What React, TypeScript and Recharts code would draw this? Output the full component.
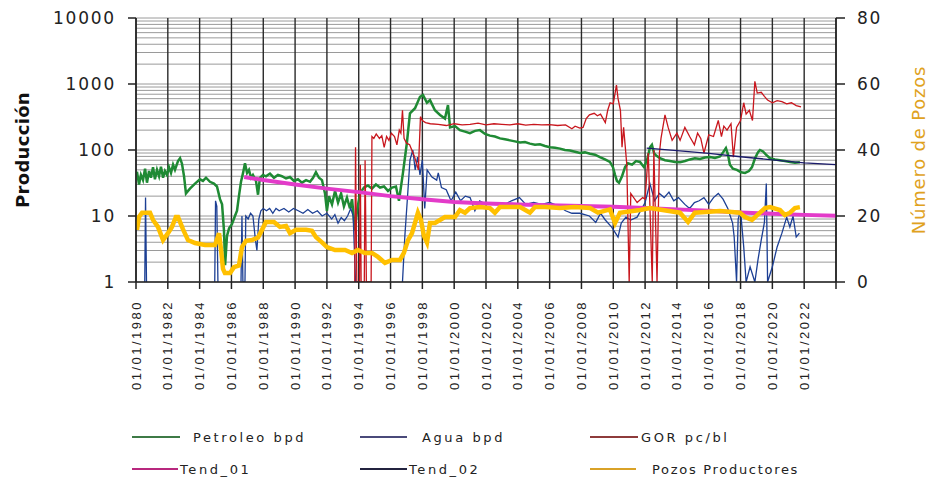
import React from 'react';
import { LineChart, Line, XAxis, YAxis, CartesianGrid } from 'recharts';

// Eje de fechas (años decimales) y marcas de los ejes
const fechaTicks = [1980, 1982, 1984, 1986, 1988, 1990, 1992, 1994, 1996, 1998, 2000, 2002, 2004, 2006, 2008, 2010, 2012, 2014, 2016, 2018, 2020, 2022, 2024];
const produccionTicks = [1, 10, 100, 1000, 10000];
const pozosTicks = [0, 20, 40, 60, 80];
// líneas menores de la escala logarítmica
const gridValores = [
  1, 2, 3, 4, 5, 6, 7, 8, 9,
  10, 20, 30, 40, 50, 60, 70, 80, 90,
  100, 200, 300, 400, 500, 600, 700, 800, 900,
  1000, 2000, 3000, 4000, 5000, 6000, 7000, 8000, 9000, 10000,
];

type Punto = [number, number | null];

const petroleo: Punto[] = [
  [1980.06, 47], [1980.19, 30], [1980.31, 42], [1980.44, 35], [1980.57, 52], [1980.69, 32],
  [1980.82, 48], [1980.94, 38], [1981.07, 55], [1981.19, 36], [1981.32, 50], [1981.45, 40],
  [1981.57, 56], [1981.7, 38], [1981.82, 48], [1981.95, 42], [1982.07, 55], [1982.2, 45],
  [1982.33, 60], [1982.45, 50], [1982.64, 68], [1982.77, 75], [1982.89, 62], [1983.02, 40],
  [1983.14, 22], [1983.39, 26], [1983.71, 31], [1984.02, 36], [1984.21, 34], [1984.4, 38],
  [1984.65, 33], [1984.9, 31], [1985.09, 28], [1985.28, 18], [1985.41, 15], [1985.53, 6],
  [1985.6, 1.8], [1985.72, 5], [1985.85, 6.5], [1986.03, 7.5], [1986.22, 10], [1986.35, 12],
  [1986.47, 20], [1986.6, 33], [1986.73, 45], [1986.85, 63], [1986.98, 45], [1987.1, 50],
  [1987.23, 38], [1987.35, 42], [1987.54, 34], [1987.67, 21], [1987.79, 38], [1987.98, 42],
  [1988.17, 40], [1988.42, 44], [1988.67, 38], [1988.92, 42], [1989.17, 40], [1989.43, 37],
  [1989.68, 39], [1989.93, 34], [1990.18, 36], [1990.43, 32], [1990.69, 35], [1990.94, 33],
  [1991.13, 38], [1991.31, 46], [1991.5, 38], [1991.69, 35], [1991.88, 22], [1992.0, 12],
  [1992.13, 20], [1992.32, 15], [1992.51, 24], [1992.7, 16], [1992.89, 22], [1993.07, 14],
  [1993.26, 19], [1993.45, 13], [1993.58, 18], [1993.76, 6], [1993.89, 12], [1994.08, 22],
  [1994.33, 27], [1994.58, 29], [1994.83, 26], [1995.08, 30], [1995.34, 27], [1995.59, 28],
  [1995.84, 24], [1996.09, 27], [1996.34, 28], [1996.53, 17], [1996.78, 45], [1997.03, 130],
  [1997.22, 360], [1997.54, 430], [1997.85, 640], [1998.04, 680], [1998.29, 520], [1998.48, 570],
  [1998.79, 400], [1999.11, 340], [1999.42, 300], [1999.61, 480], [1999.74, 220], [2000.05, 230],
  [2000.36, 200], [2000.68, 190], [2000.99, 180], [2001.31, 195], [2001.62, 200], [2001.94, 175],
  [2002.25, 165], [2002.56, 160], [2002.88, 150], [2003.19, 145], [2003.51, 140], [2003.82, 135],
  [2004.14, 130], [2004.45, 132], [2004.76, 125], [2005.08, 120], [2005.39, 122], [2005.71, 115],
  [2006.02, 110], [2006.34, 108], [2006.65, 105], [2006.96, 100], [2007.28, 98], [2007.59, 94],
  [2007.91, 90], [2008.22, 92], [2008.54, 88], [2008.85, 85], [2009.16, 78], [2009.48, 72],
  [2009.79, 66], [2009.98, 55], [2010.11, 42], [2010.23, 34], [2010.36, 32], [2010.55, 40],
  [2010.74, 55], [2010.92, 63], [2011.18, 60], [2011.43, 68], [2011.68, 66], [2011.93, 55],
  [2012.12, 70], [2012.31, 110], [2012.43, 120], [2012.56, 90], [2012.68, 83], [2012.93, 75],
  [2013.25, 70], [2013.56, 68], [2013.88, 66], [2014.19, 65], [2014.51, 68], [2014.82, 72],
  [2015.13, 75], [2015.45, 73], [2015.76, 77], [2016.08, 78], [2016.39, 76], [2016.71, 80],
  [2016.9, 92], [2017.08, 107], [2017.21, 85], [2017.33, 60], [2017.52, 52], [2017.77, 50],
  [2018.03, 46], [2018.28, 45], [2018.53, 48], [2018.72, 55], [2018.91, 75], [2019.09, 92],
  [2019.22, 100], [2019.41, 95], [2019.6, 85], [2019.85, 75], [2020.16, 72], [2020.48, 70],
  [2020.79, 68], [2021.11, 66], [2021.42, 64], [2021.73, 65],
];

const agua: Punto[] = [
  [1980.55, 1], [1980.6, 19], [1980.66, 1], [1981.0, null],
  [1984.95, 1], [1985.0, 17], [1985.08, 14], [1985.15, 1], [1985.5, null],
  [1986.6, 1], [1986.66, 10], [1986.72, 1], [1986.85, 1], [1986.9, 10], [1987.05, 9],
  [1987.2, 11], [1987.35, 10], [1987.5, 4.5], [1987.6, 3], [1987.72, 9], [1987.85, 12],
  [1988.0, 13], [1988.2, 12], [1988.4, 13], [1988.6, 11], [1988.8, 13], [1989.0, 12],
  [1989.3, 13], [1989.6, 11.5], [1989.9, 13], [1990.2, 12], [1990.5, 11], [1990.8, 12.5],
  [1991.1, 11], [1991.4, 12], [1991.7, 10], [1992.0, 11], [1992.3, 9], [1992.5, 10.5],
  [1992.7, 7.8], [1992.9, 9.5], [1993.1, 8.5], [1993.3, 10], [1993.5, 13], [1993.65, 10],
  [1993.8, 1], [1994.0, null],
  [1996.75, 1], [1996.9, 5], [1997.05, 17], [1997.22, 70], [1997.4, 100], [1997.55, 50],
  [1997.7, 78], [1997.85, 42], [1998.0, 70], [1998.15, 13], [1998.3, 50], [1998.6, 39],
  [1998.9, 35], [1999.0, 45], [1999.2, 27], [1999.5, 25], [1999.8, 17], [2000.1, 23],
  [2000.4, 17], [2000.7, 20], [2001.0, 19], [2001.3, 12], [2001.6, 17], [2002.0, 15],
  [2002.3, 16], [2002.8, 16], [2003.2, 15], [2003.6, 17], [2004.1, 19], [2004.5, 15],
  [2005.0, 16], [2005.5, 15], [2006.0, 16], [2006.6, 14], [2007.0, 12], [2007.4, 11],
  [2007.9, 11], [2008.5, 10], [2008.9, 8], [2009.2, 11], [2009.5, 8.7], [2009.9, 6.8],
  [2010.3, 4.8], [2010.5, 7.8], [2010.8, 9.6], [2011.1, 8.7], [2011.5, 9.6], [2012.0, 16],
  [2012.3, 31], [2012.6, 17], [2012.9, 22], [2013.2, 19], [2013.5, 23], [2013.8, 17],
  [2014.1, 19], [2014.5, 15], [2014.8, 13], [2015.1, 16], [2015.4, 17], [2015.7, 19],
  [2016.0, 15], [2016.3, 19], [2016.6, 22], [2016.9, 18], [2017.2, 13], [2017.5, 7.8],
  [2017.6, 4.8], [2017.75, 1], [2017.85, 9], [2018.0, 12], [2018.2, 3.4], [2018.35, 1],
  [2018.6, 1.7], [2018.9, 1], [2019.1, 2.2], [2019.3, 4.3], [2019.5, 8], [2019.62, 31],
  [2019.7, 1], [2020.0, 1.7], [2020.3, 3.4], [2020.6, 5.5], [2020.9, 9.6], [2021.1, 6.8],
  [2021.3, 10], [2021.5, 4.8], [2021.7, 5.5],
];

const gor: Punto[] = [
  [1993.75, 1], [1993.8, 110], [1993.88, 1], [1994.05, 1], [1994.1, 60], [1994.15, 1],
  [1994.35, 1], [1994.4, 70], [1994.48, 1], [1994.78, 1], [1994.83, 160], [1994.95, 150],
  [1995.1, 175], [1995.3, 150], [1995.45, 165], [1995.6, 110], [1995.75, 160], [1995.9, 140],
  [1996.05, 180], [1996.25, 160], [1996.4, 120], [1996.55, 200], [1996.65, 180], [1996.75, 400],
  [1996.85, 150], [1997.0, 127], [1997.2, 120], [1997.5, 80], [1997.75, 50], [1997.88, 320],
  [1998.0, 280], [1998.2, 260], [1998.5, 250], [1999.0, 245], [1999.5, 235], [2000.0, 250],
  [2000.5, 240], [2001.0, 245], [2001.5, 255], [2002.0, 240], [2002.5, 250], [2003.0, 245],
  [2003.5, 240], [2004.0, 250], [2004.5, 238], [2005.0, 245], [2005.5, 240], [2006.0, 242],
  [2006.5, 235], [2007.0, 240], [2007.4, 210], [2007.6, 230], [2007.9, 215], [2008.1, 220],
  [2008.3, 300], [2008.5, 340], [2008.8, 360], [2009.0, 330], [2009.2, 350], [2009.5, 260],
  [2009.65, 400], [2009.8, 520], [2010.0, 500], [2010.2, 960], [2010.3, 600], [2010.45, 400],
  [2010.55, 110], [2010.65, 220], [2010.85, 60], [2011.0, 1], [2011.1, 22], [2011.5, 16],
  [2011.85, 19], [2012.0, 18], [2012.2, 90], [2012.45, 1], [2012.55, 100], [2012.75, 1],
  [2012.9, 90], [2013.0, 150], [2013.25, 340], [2013.45, 220], [2013.7, 140], [2014.0, 180],
  [2014.2, 140], [2014.5, 220], [2014.8, 160], [2015.1, 120], [2015.3, 180], [2015.5, 150],
  [2015.7, 90], [2016.0, 170], [2016.3, 160], [2016.6, 280], [2016.8, 160], [2016.95, 230],
  [2017.15, 200], [2017.4, 250], [2017.55, 78], [2017.75, 220], [2018.0, 280], [2018.2, 520],
  [2018.35, 350], [2018.55, 400], [2018.75, 280], [2018.9, 1100], [2019.05, 730], [2019.3, 750],
  [2019.5, 650], [2019.7, 570], [2020.0, 520], [2020.3, 560], [2020.6, 540], [2020.9, 500],
  [2021.2, 520], [2021.5, 470], [2021.8, 450],
];

const tend01: Punto[] = [
  [1986.8, 39], [1988, 35], [1990, 30], [1992, 26], [1994, 23], [1996, 20], [1998, 18],
  [2000, 16.3], [2002, 15.5], [2004, 15], [2006, 14.6], [2008, 14.2], [2010, 13.8],
  [2012, 13.2], [2014, 12.6], [2016, 12], [2018, 11.3], [2020, 10.8], [2022, 10.4], [2024, 10.1],
];

const tend02: Punto[] = [
  [2012.1, 107], [2014, 98], [2016, 89], [2018, 79], [2020, 71], [2022, 64], [2024, 60],
];

const pozosProductores: Punto[] = [
  [1980.06, 15.8], [1980.19, 19.7], [1980.38, 21], [1980.88, 21], [1981.07, 18.8], [1981.38, 16.7],
  [1981.7, 12.7], [1982.01, 14.8], [1982.26, 16.7], [1982.51, 19.7], [1982.64, 19.7], [1982.95, 16],
  [1983.27, 12.7], [1983.71, 11.8], [1984.34, 11.2], [1984.97, 11.2], [1985.22, 14.8], [1985.34, 10],
  [1985.47, 4], [1985.59, 2.7], [1985.91, 2.7], [1986.16, 4.5], [1986.47, 5], [1986.66, 10.6],
  [1986.91, 12.5], [1987.29, 12.7], [1987.67, 13.5], [1987.92, 15.8], [1988.17, 18.2], [1988.67, 18.2],
  [1989.05, 16.7], [1989.43, 17], [1989.68, 14.8], [1990.06, 15.8], [1990.69, 15.8], [1991.06, 15.5],
  [1991.31, 13.6], [1991.69, 12], [1992.0, 10.6], [1992.51, 9.7], [1993.14, 9.7], [1993.58, 8.8],
  [1993.95, 9.7], [1994.39, 8.8], [1994.83, 8.8], [1995.21, 7.6], [1995.65, 5.8], [1996.09, 6.7],
  [1996.59, 6.7], [1996.84, 8.8], [1997.1, 12.7], [1997.35, 14.8], [1997.6, 19], [1997.72, 21],
  [1997.91, 18.8], [1998.1, 14], [1998.29, 12], [1998.48, 17.9], [1998.79, 17.9], [1999.42, 19.7],
  [2000.05, 19.7], [2000.36, 21.8], [2000.68, 21], [2000.99, 22.4], [2001.62, 22.7], [2002.25, 22.4],
  [2002.56, 21], [2002.88, 22.7], [2004.14, 22.7], [2004.76, 21], [2005.08, 22.7], [2005.71, 22.7],
  [2006.65, 22.4], [2007.59, 22.7], [2008.54, 22.4], [2009.04, 21], [2009.79, 22], [2010.11, 17.9],
  [2010.42, 21], [2011.68, 21.8], [2012.31, 22.4], [2014.19, 21], [2014.7, 18.2], [2015.13, 21],
  [2016.71, 21.5], [2017.96, 21], [2018.28, 19.7], [2018.72, 18.8], [2019.22, 21], [2019.54, 22.4],
  [2019.85, 22.7], [2020.48, 21.8], [2020.79, 20.3], [2021.11, 21], [2021.42, 22.4], [2021.73, 22.7],
];

const filas = (pts: Punto[]) => pts.map(([t, v]) => ({ t, v }));

const series = [
  { nombre: 'Petroleo bpd', datos: petroleo, color: '#1F8A34', ancho: 2.5, eje: 'left' },
  { nombre: 'Agua bpd', datos: agua, color: '#1C3F94', ancho: 1.3, eje: 'left' },
  { nombre: 'GOR pc/bl', datos: gor, color: '#C8161D', ancho: 1.3, eje: 'left' },
  { nombre: 'Tend_01', datos: tend01, color: '#E33BC9', ancho: 4, eje: 'left' },
  { nombre: 'Tend_02', datos: tend02, color: '#1B1B6B', ancho: 1.3, eje: 'left' },
  { nombre: 'Pozos Productores', datos: pozosProductores, color: '#FFC000', ancho: 4.5, eje: 'right' },
];

// colores algo apagados para las muestras de la leyenda
const leyendaColores = ['#3E7A46', '#4A4A7A', '#8E3B3B', '#B8287E', '#23233F', '#D9A227'];

const FechaTick = ({ x, y, payload }: any) => {
  if (payload.value === 2024) return null;
  return (
    <text
      x={x}
      y={y}
      transform={`rotate(-90 ${x} ${y})`}
      textAnchor="end"
      dominantBaseline="central"
      fontFamily="Liberation Sans, Arial, sans-serif"
      fontSize={13}
      letterSpacing={2.5}
      fill="#222"
    >
      {`01/01/${payload.value}`}
    </text>
  );
};

const TituloEje = ({ viewBox, texto, dx, color, bold }: any) => {
  const cx = viewBox.x + dx;
  const cy = viewBox.y + viewBox.height / 2;
  return (
    <text
      x={cx}
      y={cy}
      transform={`rotate(-90 ${cx} ${cy})`}
      textAnchor="middle"
      dominantBaseline="central"
      fontFamily="DejaVu Sans, sans-serif"
      fontSize={18}
      fontWeight={bold ? 'bold' : 'normal'}
      letterSpacing={bold ? 0.3 : 0.8}
      fill={color}
    >
      {texto}
    </text>
  );
};

// posiciones de la leyenda (dos filas de tres)
const leyendaPos = [
  { left: 132, top: 437, linea: 48, gap: 13, espacio: 2.6 },
  { left: 360, top: 437, linea: 47, gap: 15, espacio: 2.6 },
  { left: 590, top: 437, linea: 48, gap: 3, espacio: 2.6 },
  { left: 132, top: 469, linea: 46, gap: 2, espacio: 2.6 },
  { left: 360, top: 469, linea: 47, gap: 2, espacio: 2.6 },
  { left: 590, top: 469, linea: 46, gap: 16, espacio: 1.7 },
];

const tickStyle = { fontFamily: 'DejaVu Sans, sans-serif', fontSize: 17, fill: '#222', letterSpacing: 1.8 };

export default function App() {
  return (
    <div style={{ position: 'absolute', left: 0, top: 0, width: 929, height: 485, background: '#fff' }}>
      <LineChart width={929} height={410} margin={{ top: 18, right: 0, bottom: 0, left: 0 }}>
        <CartesianGrid yAxisId="left" vertical={false} horizontalValues={gridValores} stroke="#9a9a9a" strokeWidth={1} />
        <CartesianGrid yAxisId="left" horizontal={false} stroke="#2a2a2a" strokeWidth={1.4} />
        <XAxis
          type="number"
          dataKey="t"
          domain={[1980, 2024]}
          ticks={fechaTicks}
          interval={0}
          allowDataOverflow
          height={128}
          tick={<FechaTick />}
          tickSize={7}
          tickMargin={11}
          axisLine={{ stroke: '#222', strokeWidth: 1.5 }}
          tickLine={{ stroke: '#222', strokeWidth: 1.5 }}
        />
        <YAxis
          yAxisId="left"
          scale="log"
          domain={[1, 10000]}
          ticks={produccionTicks}
          interval={0}
          allowDataOverflow
          width={136}
          tick={tickStyle}
          tickSize={8}
          tickMargin={12}
          axisLine={{ stroke: '#222', strokeWidth: 1.5 }}
          tickLine={{ stroke: '#222', strokeWidth: 1.5 }}
          label={<TituloEje texto="Producción" dx={22} color="#111" bold />}
        />
        <YAxis
          yAxisId="right"
          orientation="right"
          domain={[0, 80]}
          ticks={pozosTicks}
          interval={0}
          width={93}
          tick={tickStyle}
          tickSize={9}
          tickMargin={12}
          axisLine={{ stroke: '#222', strokeWidth: 1.5 }}
          tickLine={{ stroke: '#222', strokeWidth: 1.5 }}
          label={<TituloEje texto="Número de Pozos" dx={82} color="#E0A21E" />}
        />
        {series.map((s) => (
          <Line
            key={s.nombre}
            data={filas(s.datos)}
            dataKey="v"
            name={s.nombre}
            yAxisId={s.eje}
            type="linear"
            stroke={s.color}
            strokeWidth={s.ancho}
            dot={false}
            activeDot={false}
            isAnimationActive={false}
          />
        ))}
      </LineChart>
      {series.map((s, i) => {
        const p = leyendaPos[i];
        return (
          <div
            key={s.nombre}
            style={{
              position: 'absolute',
              left: p.left,
              top: p.top - 10,
              height: 20,
              display: 'flex',
              alignItems: 'center',
              fontFamily: 'DejaVu Sans, sans-serif',
              fontSize: 13,
              letterSpacing: p.espacio,
              color: '#222',
              whiteSpace: 'pre',
            }}
          >
            <span style={{ display: 'inline-block', width: p.linea, height: 2, background: leyendaColores[i], marginRight: p.gap }} />
            {s.nombre}
          </div>
        );
      })}
    </div>
  );
}
